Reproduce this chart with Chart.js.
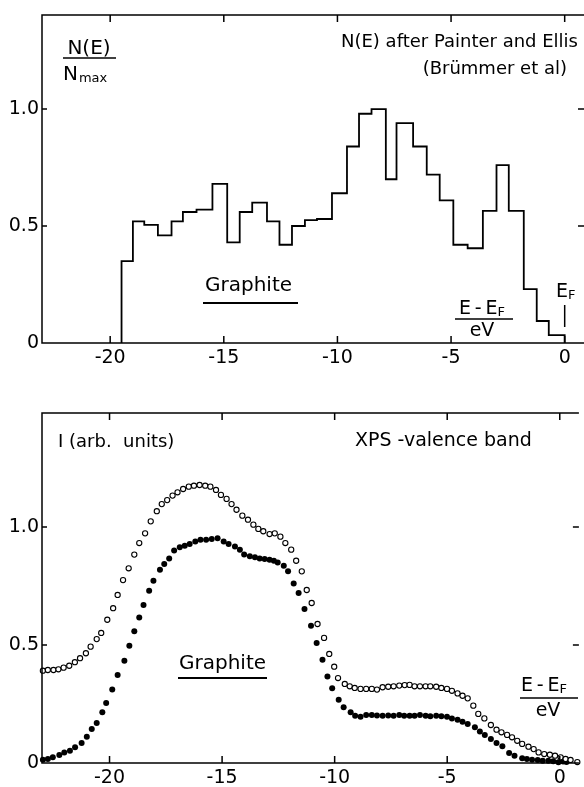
<!DOCTYPE html>
<html>
<head>
<meta charset="utf-8">
<script src="https://cdn.jsdelivr.net/npm/chart.js@4.4.1/dist/chart.umd.min.js"></script>
<style>
  html, body { margin: 0; padding: 0; background: #fff; }
  body { width: 584px; height: 787px; position: relative; overflow: hidden; }
  .panel { position: absolute; left: 0; width: 584px; }
  #dosBox { top: 0; height: 385px; }
  #xpsBox { top: 385px; height: 402px; }
</style>
</head>
<body>
<div class="panel" id="dosBox"><canvas id="dosChart"></canvas></div>
<div class="panel" id="xpsBox"><canvas id="xpsChart"></canvas></div>
<script>
// Top panel: N(E)/Nmax histogram (bin edges in eV, one value per bin)
const dosEdges = [-19.5, -19.0, -18.5, -17.9, -17.3, -16.8, -16.2, -15.5, -14.85, -14.3,
  -13.75, -13.1, -12.55, -12.0, -11.43, -10.9, -10.24, -9.58, -9.05, -8.5,
  -7.87, -7.4, -6.67, -6.07, -5.5, -4.9, -4.27, -3.6, -3.0, -2.46,
  -1.8, -1.23, -0.7, 0];
const dosValues = [0.35, 0.52, 0.505, 0.46, 0.52, 0.56, 0.57, 0.68, 0.43, 0.56,
  0.60, 0.52, 0.42, 0.50, 0.525, 0.53, 0.64, 0.84, 0.98, 1.0,
  0.70, 0.94, 0.84, 0.72, 0.61, 0.42, 0.405, 0.565, 0.76, 0.565,
  0.23, 0.094, 0.034];

// Bottom panel: XPS valence band, open circles (upper run)
const openE = [-22.96, -22.74, -22.49, -22.27, -22.04, -21.79, -21.54, -21.31, -21.05, -20.84,
  -20.57, -20.37, -20.10, -19.84, -19.64, -19.40, -19.15, -18.90, -18.68, -18.42,
  -18.17, -17.90, -17.68, -17.44, -17.20, -16.98, -16.73, -16.48, -16.25, -16.00,
  -15.75, -15.52, -15.27, -15.05, -14.80, -14.58, -14.36, -14.10, -13.85, -13.61,
  -13.39, -13.17, -12.89, -12.66, -12.41, -12.19, -11.93, -11.71, -11.46, -11.24,
  -11.02, -10.76, -10.47, -10.24, -10.02, -9.85, -9.55, -9.33, -9.11, -8.85,
  -8.60, -8.35, -8.12, -7.87, -7.62, -7.38, -7.13, -6.89, -6.67, -6.45,
  -6.21, -5.96, -5.75, -5.49, -5.26, -5.01, -4.79, -4.54, -4.32, -4.09,
  -3.84, -3.62, -3.35, -3.06, -2.81, -2.59, -2.34, -2.12, -1.89, -1.67,
  -1.39, -1.16, -0.94, -0.69, -0.44, -0.21, 0.04, 0.26, 0.48, 0.78];
const openI = [0.391, 0.394, 0.394, 0.397, 0.404, 0.412, 0.427, 0.444, 0.465, 0.493,
  0.525, 0.551, 0.607, 0.656, 0.712, 0.775, 0.825, 0.883, 0.932, 0.973,
  1.024, 1.067, 1.097, 1.114, 1.133, 1.147, 1.161, 1.171, 1.175, 1.178,
  1.175, 1.171, 1.157, 1.136, 1.119, 1.097, 1.073, 1.048, 1.031, 1.010,
  0.992, 0.982, 0.970, 0.973, 0.959, 0.932, 0.904, 0.857, 0.812, 0.733,
  0.678, 0.589, 0.530, 0.462, 0.408, 0.360, 0.335, 0.325, 0.318, 0.314,
  0.314, 0.314, 0.311, 0.321, 0.323, 0.325, 0.328, 0.330, 0.331, 0.325,
  0.325, 0.325, 0.325, 0.323, 0.318, 0.314, 0.306, 0.295, 0.285, 0.274,
  0.243, 0.208, 0.189, 0.161, 0.141, 0.130, 0.119, 0.109, 0.094, 0.081,
  0.069, 0.059, 0.045, 0.038, 0.035, 0.031, 0.024, 0.017, 0.013, 0.004];

// filled circles (lower run)
const filledE = [-22.96, -22.74, -22.52, -22.23, -22.01, -21.76, -21.53, -21.24, -21.01, -20.79,
  -20.57, -20.32, -20.15, -19.88, -19.64, -19.34, -19.12, -18.90, -18.68, -18.49,
  -18.24, -18.05, -17.76, -17.57, -17.35, -17.13, -16.88, -16.66, -16.44, -16.19,
  -15.96, -15.71, -15.46, -15.20, -14.93, -14.71, -14.43, -14.21, -14.02, -13.77,
  -13.54, -13.33, -13.11, -12.89, -12.70, -12.53, -12.26, -12.07, -11.82, -11.60,
  -11.34, -11.05, -10.80, -10.54, -10.32, -10.11, -9.82, -9.60, -9.29, -9.09,
  -8.85, -8.60, -8.35, -8.12, -7.87, -7.62, -7.38, -7.13, -6.91, -6.67,
  -6.45, -6.21, -5.96, -5.75, -5.49, -5.26, -5.01, -4.79, -4.54, -4.32,
  -4.09, -3.77, -3.55, -3.33, -3.06, -2.81, -2.55, -2.25, -2.01, -1.67,
  -1.46, -1.23, -0.98, -0.76, -0.51, -0.29, -0.06, 0.15, 0.30];
const filledI = [0.014, 0.017, 0.024, 0.034, 0.045, 0.052, 0.067, 0.085, 0.111, 0.144,
  0.169, 0.215, 0.254, 0.311, 0.373, 0.433, 0.497, 0.558, 0.617, 0.669,
  0.730, 0.772, 0.819, 0.843, 0.867, 0.900, 0.914, 0.921, 0.928, 0.938,
  0.946, 0.946, 0.949, 0.952, 0.938, 0.928, 0.917, 0.904, 0.883, 0.876,
  0.872, 0.867, 0.864, 0.861, 0.857, 0.850, 0.836, 0.812, 0.761, 0.720,
  0.653, 0.582, 0.508, 0.438, 0.367, 0.317, 0.268, 0.236, 0.215, 0.200,
  0.196, 0.203, 0.203, 0.201, 0.200, 0.201, 0.200, 0.203, 0.200, 0.200,
  0.200, 0.203, 0.200, 0.198, 0.200, 0.198, 0.196, 0.189, 0.183, 0.175,
  0.165, 0.151, 0.133, 0.119, 0.102, 0.085, 0.071, 0.042, 0.031, 0.020,
  0.017, 0.014, 0.013, 0.010, 0.010, 0.007, 0.003, 0.006, 0.004];

const xTicks = [-20, -15, -10, -5, 0];
const yTicks = [0, 0.5, 1.0];

const FONT = "'DejaVu Sans', sans-serif";

function text(ctx, str, x, y, size, align) {
  ctx.font = size + "px " + FONT;
  ctx.textAlign = align || "left";
  ctx.textBaseline = "middle";
  ctx.fillText(str, x, y);
  return ctx.measureText(str).width;
}

function hline(ctx, x1, x2, y, w) {
  ctx.lineWidth = w || 1.5;
  ctx.beginPath();
  ctx.moveTo(x1, y);
  ctx.lineTo(x2, y);
  ctx.stroke();
}

// "E-E_F" over "eV"
function energyLabel(ctx, x, y, lineX1, lineX2, lineY, evX, evY) {
  const w = text(ctx, "E\u2009-\u2009E", x, y, 19);
  text(ctx, "F", x + w, y + 4, 13);
  hline(ctx, lineX1, lineX2, lineY, 1.7);
  text(ctx, "eV", evX, evY, 19, "center");
}

// box with inward ticks on all sides
const framePlugin = {
  id: "frame",
  afterDraw(chart) {
    const { ctx, chartArea: a, scales } = chart;
    ctx.save();
    ctx.strokeStyle = "#000";
    ctx.lineWidth = 1.5;
    ctx.beginPath();
    ctx.moveTo(a.right, a.top);
    ctx.lineTo(a.left, a.top);
    ctx.lineTo(a.left, a.bottom);
    ctx.lineTo(a.right, a.bottom);
    xTicks.forEach((v) => {
      const px = scales.x.getPixelForValue(v);
      ctx.moveTo(px, a.bottom);
      ctx.lineTo(px, a.bottom - 7);
      ctx.moveTo(px, a.top);
      ctx.lineTo(px, a.top + 7);
    });
    yTicks.forEach((v) => {
      const py = scales.y.getPixelForValue(v);
      ctx.moveTo(a.left, py);
      ctx.lineTo(a.left + 5, py);
      ctx.moveTo(a.right, py);
      ctx.lineTo(a.right - 6, py);
    });
    ctx.stroke();
    ctx.restore();
  },
};

const dosNotes = {
  id: "dosNotes",
  afterDraw(chart) {
    const ctx = chart.ctx;
    ctx.save();
    ctx.fillStyle = "#000";
    ctx.strokeStyle = "#000";
    text(ctx, "N(E)", 89, 49, 20, "center");
    hline(ctx, 63, 116, 58, 1.7);
    const nw = text(ctx, "N", 63, 75, 20);
    text(ctx, "max", 63 + nw + 1, 79, 13);
    text(ctx, "N(E) after Painter and Ellis", 578, 42, 18, "right");
    text(ctx, "(Br\u00fcmmer et al)", 567, 69, 18, "right");
    text(ctx, "Graphite", 205, 286, 20);
    hline(ctx, 203, 298, 303, 2);
    energyLabel(ctx, 459, 309, 455, 513, 319, 482, 331);
    const ew = text(ctx, "E", 556, 292, 19);
    text(ctx, "F", 556 + ew, 296, 13);
    const xF = chart.scales.x.getPixelForValue(0);
    ctx.lineWidth = 1.5;
    ctx.beginPath();
    ctx.moveTo(xF, 305);
    ctx.lineTo(xF, 327);
    ctx.stroke();
    ctx.restore();
  },
};

const xpsNotes = {
  id: "xpsNotes",
  afterDraw(chart) {
    const ctx = chart.ctx;
    ctx.save();
    ctx.fillStyle = "#000";
    ctx.strokeStyle = "#000";
    text(ctx, "I (arb.  units)", 58, 57, 18);
    text(ctx, "XPS -valence band", 355, 56, 19);
    text(ctx, "Graphite", 179, 279, 20);
    hline(ctx, 178, 267, 293, 2);
    energyLabel(ctx, 521, 301, 520, 578, 313, 548, 326);
    ctx.restore();
  },
};

function axes(yMax, xHeight) {
  return {
    x: {
      type: "linear",
      min: -23,
      max: 0.85,
      afterBuildTicks: (s) => { s.ticks = xTicks.map((v) => ({ value: v })); },
      afterFit: (s) => { s.height = xHeight; },
      grid: { display: false, drawTicks: false },
      border: { display: false },
      ticks: {
        color: "#000",
        font: { family: FONT, size: 19 },
        padding: 4,
        maxRotation: 0,
        autoSkip: false,
      },
    },
    y: {
      type: "linear",
      min: 0,
      max: yMax,
      afterBuildTicks: (s) => { s.ticks = yTicks.map((v) => ({ value: v })); },
      afterFit: (s) => { s.width = 42; },
      grid: { display: false, drawTicks: false },
      border: { display: false },
      ticks: {
        color: "#000",
        font: { family: FONT, size: 19 },
        padding: 3,
        callback: (v) => (v === 0 ? "0" : v.toFixed(1)),
      },
    },
  };
}

const dosPoints = [{ x: dosEdges[0], y: 0 }];
dosValues.forEach((v, i) => dosPoints.push({ x: dosEdges[i], y: v }));
dosPoints.push({ x: dosEdges[dosEdges.length - 1], y: 0 });

new Chart(document.getElementById("dosChart"), {
  type: "line",
  data: {
    datasets: [
      {
        label: "N(E)",
        data: dosPoints,
        stepped: true,
        borderColor: "#000",
        borderWidth: 1.8,
        pointRadius: 0,
        fill: false,
      },
    ],
  },
  options: {
    responsive: true,
    maintainAspectRatio: false,
    animation: false,
    layout: { padding: { top: 15, right: 0, left: 0, bottom: 0 } },
    plugins: { legend: { display: false }, tooltip: { enabled: false } },
    scales: axes(1.402, 42),
  },
  plugins: [framePlugin, dosNotes],
});

new Chart(document.getElementById("xpsChart"), {
  type: "scatter",
  data: {
    datasets: [
      {
        label: "open",
        data: openE.map((e, i) => ({ x: e, y: openI[i] })),
        pointRadius: 2.6,
        pointBackgroundColor: "#fff",
        pointBorderColor: "#000",
        pointBorderWidth: 1.1,
        clip: false,
      },
      {
        label: "filled",
        data: filledE.map((e, i) => ({ x: e, y: filledI[i] })),
        pointRadius: 3,
        pointBackgroundColor: "#000",
        pointBorderColor: "#000",
        pointBorderWidth: 0,
        clip: false,
      },
    ],
  },
  options: {
    responsive: true,
    maintainAspectRatio: false,
    animation: false,
    layout: { padding: { top: 28, right: 0, left: 0, bottom: 0 } },
    plugins: { legend: { display: false }, tooltip: { enabled: false } },
    scales: axes(1.483, 24),
  },
  plugins: [framePlugin, xpsNotes],
});
</script>
</body>
</html>
